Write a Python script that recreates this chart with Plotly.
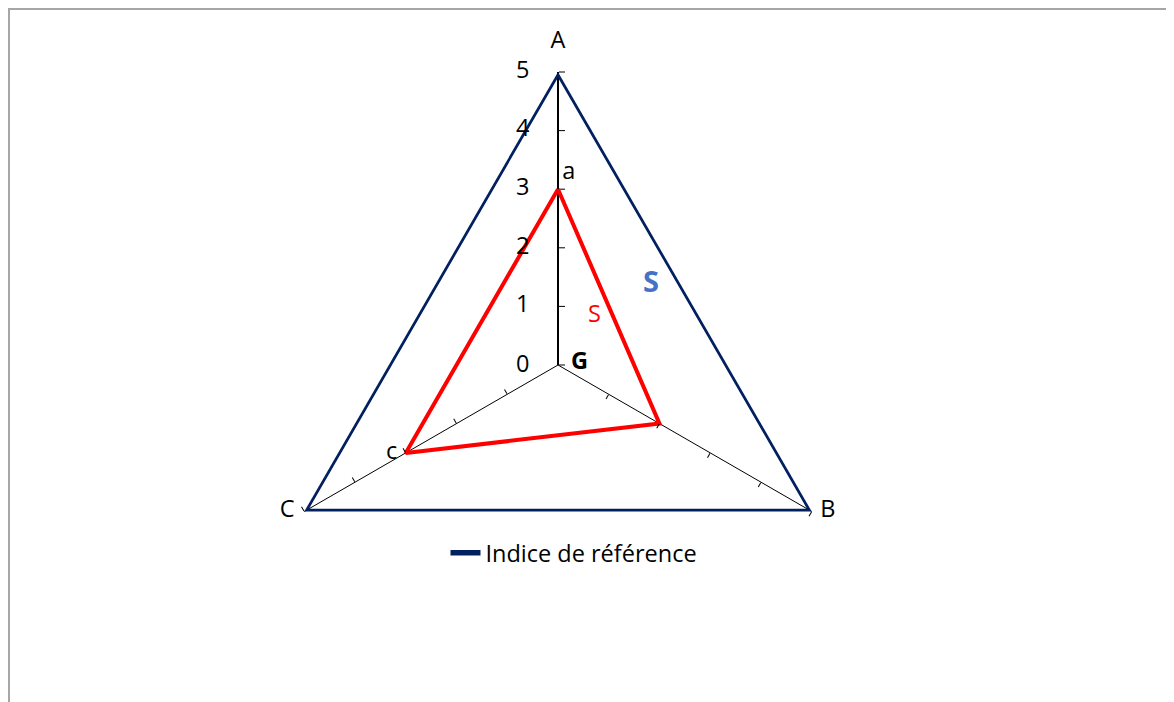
import plotly.graph_objects as go

# axes of the radar chart
axes = ["A", "B", "C"]
radial_ticks = [0, 1, 2, 3, 4, 5]

# series values
reference_values = [5, 5, 5]
s_values = [3, 2, 3]
s_point_labels = ["a", "", "c"]

FONT = "Open Sans"
FS = 23.5
NAVY = "#002060"
RED = "#ff0000"
W, H = 1174, 702
OFF = 8  # the page body adds an 8px margin around the figure
R_RANGE = [0, 5]


def closed(values):
    return list(values) + [values[0]]


def px(x, y):
    # screen pixel -> paper coords
    return (x - OFF) / W, 1 - (y - OFF) / H


fig = go.Figure()

fig.add_trace(
    go.Scatterpolar(
        r=closed(reference_values),
        theta=closed(axes),
        mode="lines",
        line=dict(color=NAVY, width=5.5),
        name="Indice de référence",
        subplot="polar",
    )
)

fig.add_trace(
    go.Scatterpolar(
        r=closed(s_values),
        theta=closed(axes),
        mode="lines",
        line=dict(color=RED, width=4),
        name="S",
        showlegend=False,
        subplot="polar",
    )
)

# point labels a / c next to the red vertices
fig.add_trace(
    go.Scatterpolar(
        r=[s_values[0], s_values[2]],
        theta=[axes[0], axes[2]],
        mode="markers+text",
        marker=dict(size=[5, 12], opacity=0),
        text=[s_point_labels[0], s_point_labels[2]],
        textposition=["top right", "middle left"],
        textfont=dict(family=FONT, size=FS, color="black"),
        showlegend=False,
        hoverinfo="skip",
        subplot="polar",
    )
)

# category labels A / B / C at the outer vertices
fig.add_trace(
    go.Scatterpolar(
        r=reference_values,
        theta=axes,
        mode="markers+text",
        marker=dict(size=[28, 12, 14], opacity=0),
        text=axes,
        textposition=["top center", "middle right", "middle left"],
        textfont=dict(family=FONT, size=FS, color="black"),
        cliponaxis=False,
        showlegend=False,
        hoverinfo="skip",
        subplot="polar",
    )
)

# radial tick labels 1..5, set off to the left of the A axis
fig.add_trace(
    go.Scatterpolar(
        r=radial_ticks[1:],
        theta=[axes[0]] * (len(radial_ticks) - 1),
        mode="markers+text",
        marker=dict(size=44, opacity=0),
        text=[str(v) for v in radial_ticks[1:]],
        textposition="middle left",
        textfont=dict(family=FONT, size=FS, color="black"),
        cliponaxis=False,
        showlegend=False,
        hoverinfo="skip",
        subplot="polar",
    )
)

# invisible traces so the overlaid polar subplots (tick marks on B and C spokes) render
for sp in ["polar2", "polar3"]:
    fig.add_trace(
        go.Scatterpolar(
            r=[0],
            theta=[0],
            mode="markers",
            marker=dict(opacity=0),
            showlegend=False,
            hoverinfo="skip",
            subplot=sp,
        )
    )

cx, cy = px(558, 365)
rad = 293
domain = dict(x=[cx - rad / W, cx + rad / W], y=[cy - rad / H, cy + rad / H])

lx, ly = px(574, 553)

fig.update_layout(
    width=W,
    height=H,
    margin=dict(l=0, r=0, t=0, b=0),
    paper_bgcolor="white",
    plot_bgcolor="white",
    font=dict(family=FONT, size=FS, color="black"),
    showlegend=True,
    legend=dict(
        orientation="h",
        x=lx,
        xanchor="center",
        y=ly,
        yanchor="middle",
        font=dict(family=FONT, size=FS, color="black"),
        bgcolor="rgba(0,0,0,0)",
    ),
    polar=dict(
        domain=domain,
        bgcolor="rgba(0,0,0,0)",
        gridshape="linear",
        angularaxis=dict(
            direction="clockwise",
            rotation=90,
            showline=False,
            showgrid=True,
            gridcolor="black",
            gridwidth=1,
            ticks="",
            showticklabels=False,
        ),
        radialaxis=dict(
            range=R_RANGE,
            tickvals=radial_ticks,
            angle=90,
            side="counterclockwise",
            showgrid=False,
            showline=True,
            linecolor="black",
            linewidth=2,
            ticks="inside",
            ticklen=6,
            tickcolor="black",
            showticklabels=False,
            layer="below traces",
        ),
    ),
)

for sp, ang in [("polar2", -30), ("polar3", 210)]:
    fig.update_layout(
        {
            sp: dict(
                domain=domain,
                bgcolor="rgba(0,0,0,0)",
                gridshape="linear",
                angularaxis=dict(
                    showline=False,
                    showgrid=False,
                    showticklabels=False,
                    ticks="",
                ),
                radialaxis=dict(
                    range=R_RANGE,
                    tickvals=radial_ticks[1:],
                    angle=ang,
                    side="counterclockwise",
                    showgrid=False,
                    showline=False,
                    showticklabels=False,
                    ticks="inside",
                    ticklen=5,
                    tickcolor="black",
                ),
            )
        }
    )

# the "0" label at the centre (a polar point at r=0 does not get its text drawn)
zx, zy = px(531, 363)
fig.add_annotation(
    x=zx, y=zy, xref="paper", yref="paper", xanchor="right",
    text=str(radial_ticks[0]), showarrow=False,
    font=dict(family=FONT, size=FS, color="black"),
)

# text labels inside the chart
sx, sy = px(594, 313)
fig.add_annotation(
    x=sx, y=sy, xref="paper", yref="paper",
    text="S", showarrow=False, font=dict(family=FONT, size=FS, color=RED),
)
bx, by = px(651, 280)
fig.add_annotation(
    x=bx, y=by, xref="paper", yref="paper",
    text="<b>S</b>", showarrow=False, font=dict(family=FONT, size=29, color="#4472c4"),
)
gx, gy = px(579, 360)
fig.add_annotation(
    x=gx, y=gy, xref="paper", yref="paper",
    text="<b>G</b>", showarrow=False, font=dict(family=FONT, size=FS, color="black"),
)

# chart area frame (only the top and left edges are visible in the window)
fig.add_shape(
    type="rect", xref="paper", yref="paper",
    x0=1 / W, x1=1.2, y0=-0.2, y1=1 - 1 / H,
    line=dict(color="#a6a6a6", width=2),
    fillcolor="rgba(0,0,0,0)",
    layer="below",
)

fig.write_html("out.html")
